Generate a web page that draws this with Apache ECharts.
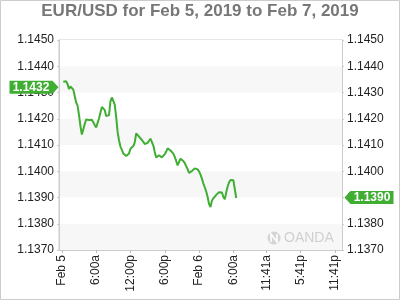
<!DOCTYPE html>
<html>
<head>
<meta charset="utf-8">
<script src="https://cdn.jsdelivr.net/npm/echarts@6/dist/echarts.min.js"></script>
<style>
html,body{margin:0;padding:0;background:#fff;}
#chart{width:400px;height:300px;}
</style>
</head>
<body>
<div id="chart"></div>
<script>
// ---- data ----
const titleText = 'EUR/USD for Feb 5, 2019 to Feb 7, 2019';
const axisStart = Date.UTC(2019, 1, 4, 23, 30);   // first category on the time axis
const stepMinutes = 15;
const axisCount = 199;
const priceStart = Date.UTC(2019, 1, 5, 0, 15);   // first price point
const prices = [
  1.14341, 1.14342, 1.14343, 1.14332, 1.14313, 1.14323, 1.14327, 1.14311, 1.14287, 1.14262,
  1.14250, 1.14214, 1.14172, 1.14140, 1.14144, 1.14180, 1.14197, 1.14199, 1.14195, 1.14197,
  1.14196, 1.14190, 1.14176, 1.14167, 1.14169, 1.14201, 1.14224, 1.14245, 1.14249, 1.14233,
  1.14210, 1.14205, 1.14214, 1.14266, 1.14281, 1.14274, 1.14254, 1.14207, 1.14150, 1.14117,
  1.14094, 1.14081, 1.14068, 1.14063, 1.14058, 1.14053, 1.14068, 1.14086, 1.14091, 1.14096,
  1.14110, 1.14144, 1.14146, 1.14132, 1.14125, 1.14119, 1.14116, 1.14104, 1.14103, 1.14108,
  1.14116, 1.14124, 1.14122, 1.14098, 1.14073, 1.14052, 1.14053, 1.14061, 1.14058, 1.14053,
  1.14054, 1.14065, 1.14075, 1.14087, 1.14084, 1.14079, 1.14075, 1.14067, 1.14055, 1.14039,
  1.14022, 1.14022, 1.14048, 1.14055, 1.14039, 1.14031, 1.14019, 1.14008, 1.13994, 1.13990,
  1.14001, 1.14007, 1.14011, 1.14011, 1.14007, 1.13999, 1.13987, 1.13972, 1.13953, 1.13939,
  1.13923, 1.13902, 1.13875, 1.13864, 1.13888, 1.13897, 1.13904, 1.13910, 1.13915, 1.13920,
  1.13926, 1.13919, 1.13902, 1.13893, 1.13919, 1.13942, 1.13958, 1.13967, 1.13969, 1.13966,
  1.13932, 1.13898
];
const openTag = 1.1432;
const lastTag = 1.1390;
const tickTimes = [
  Date.UTC(2019, 1, 5, 0, 0), Date.UTC(2019, 1, 5, 6, 0), Date.UTC(2019, 1, 5, 12, 0),
  Date.UTC(2019, 1, 5, 18, 0), Date.UTC(2019, 1, 6, 0, 0), Date.UTC(2019, 1, 6, 6, 0),
  Date.UTC(2019, 1, 6, 11, 45), Date.UTC(2019, 1, 6, 17, 45), Date.UTC(2019, 1, 6, 23, 45)
];
const tickLabels = ['Feb 5', '6:00a', '12:00p', '6:00p', 'Feb 6', '6:00a', '11:41a', '5:41p', '11:41p'];
const yMin = 1.137, yMax = 1.145, yStep = 0.001;

// ---- build axis / series from data ----
function key(t) {
  const d = new Date(t);
  const p = n => String(n).padStart(2, '0');
  return p(d.getUTCMonth() + 1) + '-' + p(d.getUTCDate()) + ' ' + p(d.getUTCHours()) + ':' + p(d.getUTCMinutes());
}
const categories = [];
for (let i = 0; i < axisCount; i++) categories.push(key(axisStart + i * stepMinutes * 60000));
const tickMap = new Map();
tickTimes.forEach((t, i) => tickMap.set(key(t), tickLabels[i]));
const seriesData = prices.map((v, i) => [key(priceStart + i * stepMinutes * 60000), v]);
const showTick = (idx, val) => tickMap.has(val);

const green = '#3fae33';
const chart = echarts.init(document.getElementById('chart'), null, {renderer: 'canvas'});
chart.setOption({
  animation: false,
  textStyle: {fontFamily: 'Liberation Sans, Arial, sans-serif'},
  title: {
    text: titleText, left: 'center', top: 0, padding: [3, 5],
    textStyle: {fontSize: 17, fontWeight: 'bold', color: '#777', fontFamily: 'Liberation Sans, Arial, sans-serif'}
  },
  grid: {left: 59, right: 58, top: 40, bottom: 50, show: true, borderColor: '#ccc', borderWidth: 1, backgroundColor: 'transparent'},
  xAxis: {
    type: 'category', data: categories, boundaryGap: false,
    axisLine: {lineStyle: {color: '#ccc'}},
    axisTick: {interval: showTick, length: 3, lineStyle: {color: '#bbb'}},
    axisLabel: {interval: showTick, formatter: v => tickMap.get(v), rotate: 90, margin: 5, fontSize: 12, color: '#222'},
    splitLine: {show: false}
  },
  yAxis: [{
    type: 'value', position: 'left', min: yMin, max: yMax, interval: yStep,
    axisLine: {show: true, lineStyle: {color: '#ccc'}},
    axisTick: {show: true, length: 2, lineStyle: {color: '#ccc'}},
    axisLabel: {formatter: v => v.toFixed(4), margin: 5, fontSize: 12, color: '#222'},
    splitLine: {show: false},
    splitArea: {show: true, areaStyle: {color: ['#f7f7f7', '#ffffff']}}
  }, {
    type: 'value', position: 'right', min: yMin, max: yMax, interval: yStep,
    axisLine: {show: true, lineStyle: {color: '#ccc'}},
    axisTick: {show: true, length: 2, lineStyle: {color: '#ccc'}},
    axisLabel: {formatter: v => v.toFixed(4), margin: 5, fontSize: 12, color: '#222'},
    splitLine: {show: false}
  }],
  series: [{
    type: 'line', data: seriesData, showSymbol: false, symbol: 'none',
    lineStyle: {color: green, width: 2}, itemStyle: {color: green},
    markPoint: {
      silent: true,
      data: [{
        coord: [categories[0], openTag], value: openTag.toFixed(4),
        symbol: 'path://M0,0L43,0L49,6.5L43,13L0,13Z', symbolSize: [49, 13], symbolOffset: [-25, 0],
        itemStyle: {color: green},
        label: {show: true, position: 'inside', offset: [-3, 0], formatter: '{c}', color: '#fff', fontSize: 12, fontWeight: 'bold'}
      }, {
        coord: [categories[categories.length - 1], lastTag], value: lastTag.toFixed(4),
        symbol: 'path://M0,6.5L6,0L49,0L49,13L6,13Z', symbolSize: [49, 13], symbolOffset: [27, 0],
        itemStyle: {color: green},
        label: {show: true, position: 'inside', offset: [3, 0], formatter: '{c}', color: '#fff', fontSize: 12, fontWeight: 'bold'}
      }]
    }
  }],
  graphic: [
    {type: 'rect', shape: {x: 0.5, y: 0.5, width: 399, height: 299}, style: {fill: 'none', stroke: '#ccc', lineWidth: 1}, silent: true, z: 100},
    {type: 'circle', shape: {cx: 274, cy: 238, r: 6.5}, style: {fill: '#d4d4d4'}, silent: true, z: 1},
    {type: 'polyline', shape: {points: [[271, 242], [271, 234], [277, 242], [277, 234]]}, style: {stroke: '#fff', lineWidth: 1.6, fill: 'none'}, silent: true, z: 2},
    {type: 'text', left: 284, top: 231, style: {text: 'OANDA', fontSize: 14, fill: '#d0d0d0', fontFamily: 'Liberation Sans, Arial, sans-serif'}, silent: true, z: 1}
  ]
});
</script>
</body>
</html>
